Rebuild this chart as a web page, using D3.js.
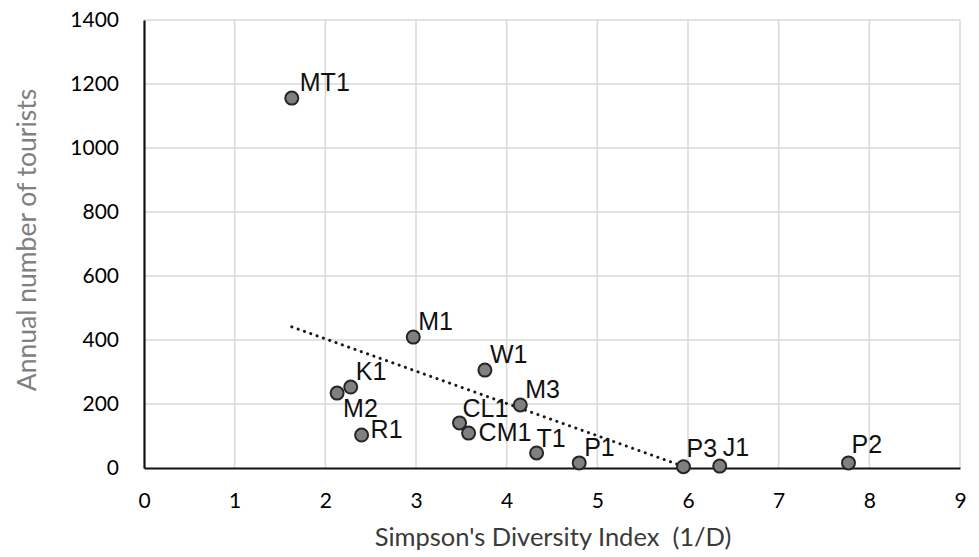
<!DOCTYPE html>
<html>
<head>
<meta charset="utf-8">
<script src="https://cdn.jsdelivr.net/npm/d3@7"></script>
<style>
  html, body { margin: 0; padding: 0; background: #fff; }
  svg { display: block; }
</style>
</head>
<body>
<svg id="chart" width="979" height="557"></svg>
<script>
// ---- data ----
const sites = ["MT1", "M1", "W1", "K1", "M2", "R1", "CL1", "CM1", "M3", "T1", "P1", "P3", "J1", "P2"];
const diversity = [1.63, 2.97, 3.76, 2.28, 2.13, 2.40, 3.48, 3.58, 4.15, 4.33, 4.80, 5.95, 6.35, 7.77];
const tourists = [1156, 409, 306, 253, 234, 103, 141, 109, 197, 47, 16, 4, 6, 16];
const trendX = [1.63, 5.95];
const trendY = [441, 5];
const xTicks = [0, 1, 2, 3, 4, 5, 6, 7, 8, 9];
const yTicks = [0, 200, 400, 600, 800, 1000, 1200, 1400];

// ---- layout (label nudges are styling, not data) ----
const labelNudge = {
  default: [5, -7],
  M2: [6, 24],
  R1: [9, 3],
  CM1: [10, 8],
  CL1: [3, -6],
  T1: [0, -6],
  MT1: [8, -7],
  P3: [3, -10],
  J1: [3, -10],
  P2: [3, -10]
};

const svg = d3.select("#chart");
const mLeft = 144, mRight = 960, mTop = 20, mBottom = 468;

const x = d3.scaleLinear().domain([0, 9]).range([mLeft, mRight]);
const y = d3.scaleLinear().domain([0, 1400]).range([mBottom, mTop]);

const tickFont = "Lato, 'Open Sans', sans-serif";

// gridlines
const grid = svg.append("g");
grid.selectAll("line.h").data(yTicks.filter(d => d > 0)).join("line")
  .attr("class", "h")
  .attr("x1", mLeft).attr("x2", mRight)
  .attr("y1", d => y(d)).attr("y2", d => y(d))
  .attr("stroke", "#d9d9d9").attr("stroke-width", 1.5);
grid.selectAll("line.v").data(xTicks.filter(d => d > 0)).join("line")
  .attr("class", "v")
  .attr("x1", d => x(d)).attr("x2", d => x(d))
  .attr("y1", mTop).attr("y2", mBottom)
  .attr("stroke", "#d9d9d9").attr("stroke-width", 1.5);

// axes
const xAxis = svg.append("g").attr("transform", `translate(0,${mBottom})`)
  .call(d3.axisBottom(x).tickValues(xTicks).tickSize(0).tickPadding(25).tickFormat(d3.format("d")));
const yAxis = svg.append("g").attr("transform", `translate(${mLeft},0)`)
  .call(d3.axisLeft(y).tickValues(yTicks).tickSize(0).tickPadding(25).tickFormat(d3.format("d")));
[xAxis, yAxis].forEach(a => {
  a.select(".domain").attr("stroke", "#111").attr("stroke-width", 2.2);
  a.selectAll("text").attr("font-family", tickFont).attr("font-size", 21).attr("fill", "#000");
});

// trendline
svg.append("path")
  .datum(trendX.map((d, i) => [d, trendY[i]]))
  .attr("d", d3.line().x(d => x(d[0])).y(d => y(d[1])))
  .attr("fill", "none").attr("stroke", "#1a1a1a").attr("stroke-width", 3)
  .attr("stroke-linecap", "round").attr("stroke-dasharray", "0.1 6.6");

// points
const pts = sites.map((s, i) => ({ s, x: diversity[i], y: tourists[i] }));
svg.append("g").selectAll("circle").data(pts).join("circle")
  .attr("cx", d => x(d.x)).attr("cy", d => y(d.y)).attr("r", 6.5)
  .attr("fill", "#808080").attr("stroke", "#262626").attr("stroke-width", 2);

// labels
svg.append("g").selectAll("text").data(pts).join("text")
  .attr("x", d => x(d.x) + (labelNudge[d.s] || labelNudge.default)[0])
  .attr("y", d => y(d.y) + (labelNudge[d.s] || labelNudge.default)[1])
  .attr("font-family", "'Liberation Sans', Arial, sans-serif")
  .attr("font-size", 25).attr("fill", "#111")
  .text(d => d.s);

// axis titles
svg.append("text")
  .attr("x", 553).attr("y", 546)
  .attr("text-anchor", "middle")
  .attr("font-family", tickFont).attr("font-size", 25.5).attr("fill", "#3a3a3a")
  .attr("xml:space", "preserve")
  .text("Simpson's Diversity Index  (1/D)");

svg.append("text")
  .attr("transform", "translate(36,240) rotate(-90)")
  .attr("text-anchor", "middle")
  .attr("font-family", tickFont).attr("font-size", 26.5).attr("fill", "#808080")
  .text("Annual number of tourists");
</script>
</body>
</html>
